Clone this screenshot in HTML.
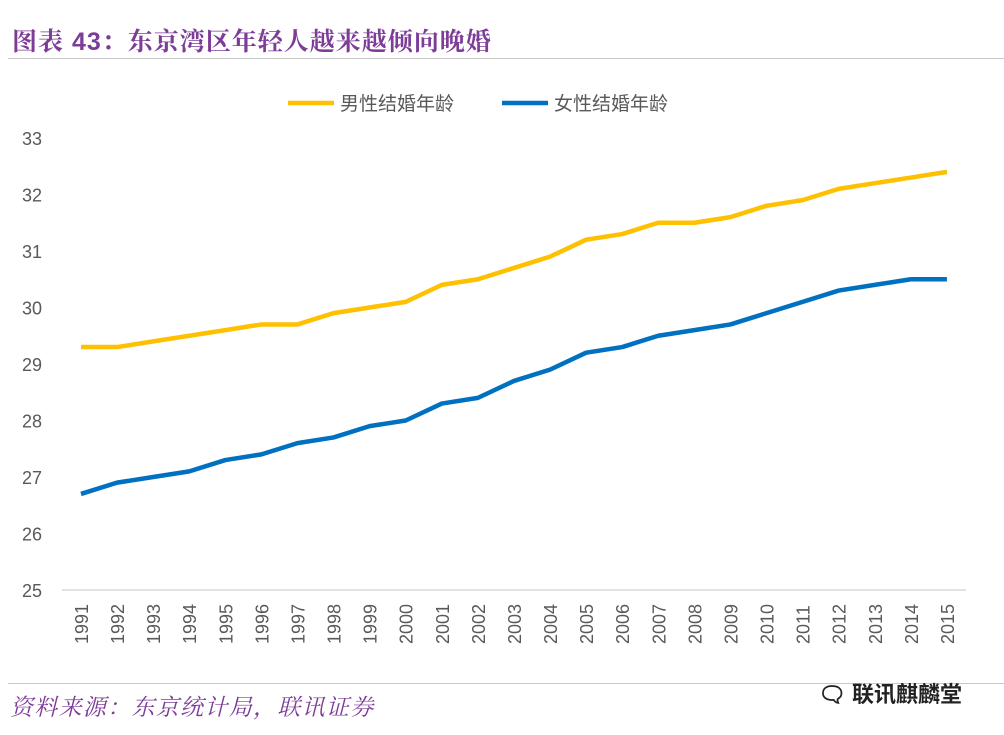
<!DOCTYPE html>
<html><head><meta charset="utf-8"><style>
body{margin:0;width:1004px;height:735px;background:#fff;position:relative;overflow:hidden;font-family:"Liberation Sans","Noto Sans CJK SC",sans-serif}
.t{position:absolute;left:12px;top:22px;font-size:25px;font-weight:bold;color:#7d3c98;letter-spacing:1px;font-family:"Liberation Sans","Noto Serif CJK SC",serif}
.hr{position:absolute;left:8px;right:0;height:1px;background:#c8c8c8}
.src{position:absolute;left:10px;top:689px;font-size:23px;letter-spacing:1.3px;font-style:italic;color:#7d3c98;font-family:"Liberation Serif","Noto Serif CJK SC",serif}
.wm{position:absolute;left:818px;top:677px;font-size:22px;color:#222;font-weight:bold}
</style></head><body>
<div class="t">图表 43：东京湾区年轻人越来越倾向晚婚</div>
<div class="hr" style="top:58px"></div>
<div class="hr" style="top:683px"></div>
<div class="src">资料来源：东京统计局，联讯证券</div>
<div class="wm">🗨 联讯麒麟堂</div>
<svg id="c" width="1004" height="735" style="position:absolute;left:0;top:0"></svg>
<script>
const years=[1991,1992,1993,1994,1995,1996,1997,1998,1999,2000,2001,2002,2003,2004,2005,2006,2007,2008,2009,2010,2011,2012,2013,2014,2015];
const male=[29.3,29.3,29.4,29.5,29.6,29.7,29.7,29.9,30.0,30.1,30.4,30.5,30.7,30.9,31.2,31.3,31.5,31.5,31.6,31.8,31.9,32.1,32.2,32.3,32.4];
const female=[26.7,26.9,27.0,27.1,27.3,27.4,27.6,27.7,27.9,28.0,28.3,28.4,28.7,28.9,29.2,29.3,29.5,29.6,29.7,29.9,30.1,30.3,30.4,30.5,30.5];
const yTicks=[25,26,27,28,29,30,31,32,33];
const svg=document.getElementById('c');const NS='http://www.w3.org/2000/svg';
const x=i=>81+i*36.08;const y=v=>590-(v-25)*56.5;
function mk(t,a){const e=document.createElementNS(NS,t);for(const k in a)e.setAttribute(k,a[k]);svg.appendChild(e);return e;}
let ax=mk('line',{x1:62,x2:966,y1:590,y2:590,stroke:'#d9d9d9','stroke-width':1.5});


yTicks.forEach(v=>{const t=mk('text',{x:42,y:y(v)+7,'text-anchor':'end','font-size':18,fill:'#595959'});t.textContent=v;

});
years.forEach((yr,i)=>{const t=mk('text',{transform:`translate(${x(i)+7},644) rotate(-90)`,'font-size':18,fill:'#595959'});t.textContent=yr;

});
function line(d,c,n){const p=mk('polyline',{points:d.map((v,i)=>x(i)+','+y(v)).join(' '),fill:'none',stroke:c,'stroke-width':4.5,'stroke-linejoin':'round'});

}
line(male,'#ffc000','male-line');line(female,'#0070c0','female-line');
function leg(x0,c,txt,n){const g=mk('g',{});
const l=document.createElementNS(NS,'line');l.setAttribute('x1',x0);l.setAttribute('x2',x0+46);l.setAttribute('y1',103);l.setAttribute('y2',103);l.setAttribute('stroke',c);l.setAttribute('stroke-width',4.5);g.appendChild(l);
const t=document.createElementNS(NS,'text');t.setAttribute('x',x0+52);t.setAttribute('y',110);t.setAttribute('font-size',19);t.setAttribute('fill','#595959');t.textContent=txt;g.appendChild(t);}
leg(288,'#ffc000','男性结婚年龄','legend-male');leg(502,'#0070c0','女性结婚年龄','legend-female');
</script>
</body></html>
